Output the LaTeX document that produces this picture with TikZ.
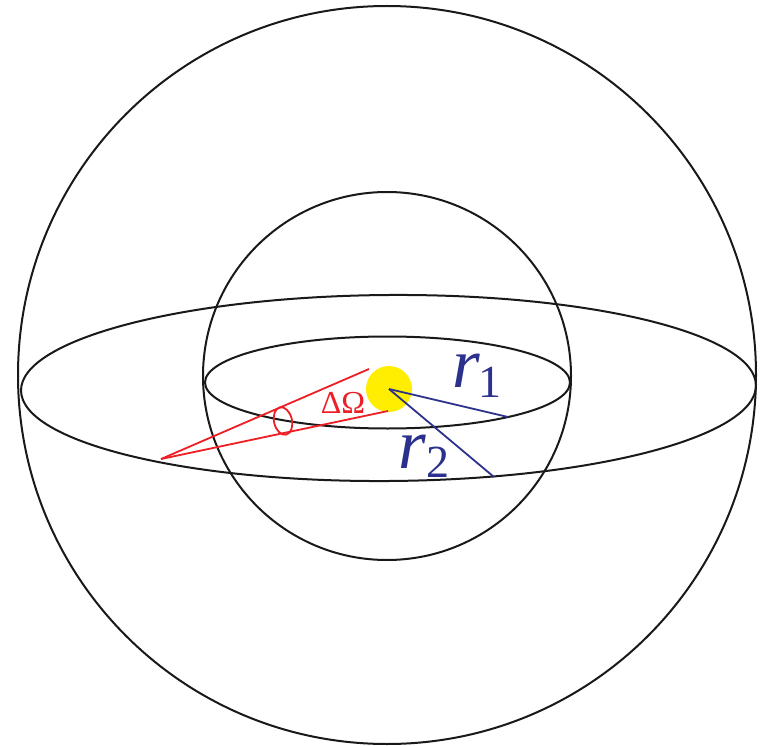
\documentclass[tikz,border=0pt]{standalone}
\usepackage{fontspec}
\newfontfamily\lserif{Liberation Serif}
\definecolor{navy}{RGB}{43,49,140}
\definecolor{redl}{RGB}{237,30,36}
\definecolor{yell}{RGB}{255,238,0}
\begin{document}
\begin{tikzpicture}[x=1pt,y=-1pt,
  blk/.style={draw=black!90,line width=2pt},
  redline/.style={draw=redl,line width=1.8pt},
  blueline/.style={draw=navy,line width=1.8pt},
  lbl/.style={inner sep=0pt,outer sep=0pt,text=navy}]
\useasboundingbox (0,0) rectangle (768,746);
% spheres
\draw[blk] (387,375) circle [radius=369];
\draw[blk] (387,376) circle [radius=184];
% ellipses
\draw[blk,rotate around={0.4:(388.5,388)}] (388.5,388) ellipse [x radius=367.5, y radius=93];
\draw[blk] (387.5,382.5) ellipse [x radius=182.5, y radius=46];
% source
\fill[yell] (389,389) circle [radius=23];
\coordinate (src) at (389,389);
\coordinate (e1) at (508,417);
\coordinate (e2) at (494,477);
\draw[blueline] (src) -- (e1);
\draw[blueline] (src) -- (e2);
% solid angle cone
\coordinate (apex) at (161,459);
\coordinate (c1) at (369,369);
\coordinate (c2) at (388,411);
\draw[redline] (apex) -- (c1);
\draw[redline] (apex) -- (c2);
\draw[redline,rotate around={13:(283,421)}] (283,421) ellipse [x radius=9, y radius=14];
% labels
\node[lbl,font=\lserif\fontsize{71}{71}\selectfont\itshape] (r1) at (466,371) {r};
\node[lbl,font=\lserif\fontsize{46}{46}\selectfont] (s1) at (490,382.5) {1};
\node[lbl,font=\lserif\fontsize{71}{71}\selectfont\itshape] (r2) at (412.5,451.5) {r};
\node[lbl,font=\lserif\fontsize{46}{46}\selectfont] (s2) at (437.5,462.5) {2};
\node[inner sep=0pt,text=redl,font=\lserif\fontsize{32}{32}\selectfont] (dO) at (343,402.5) {ΔΩ};
\end{tikzpicture}
\end{document}
